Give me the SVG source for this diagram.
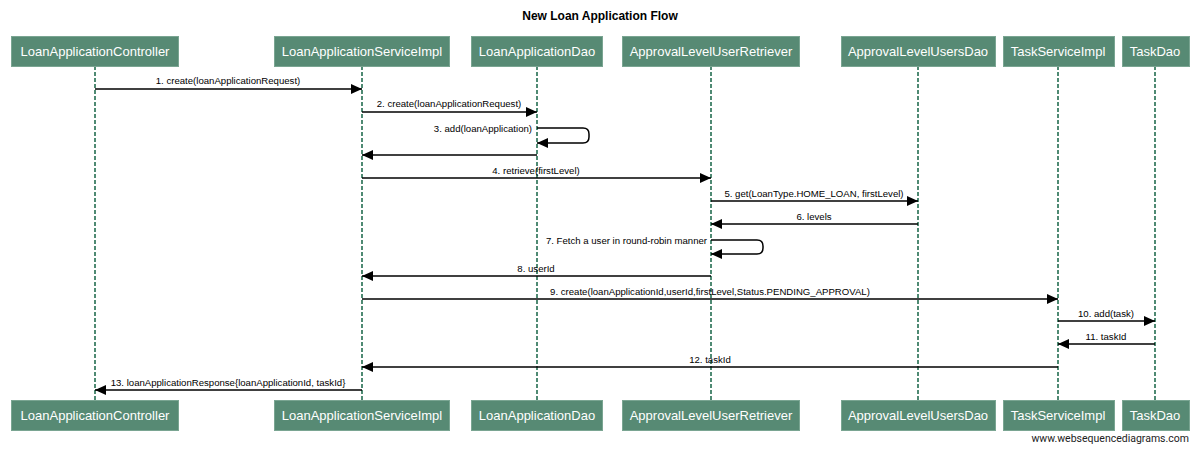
<svg xmlns="http://www.w3.org/2000/svg" width="1200" height="449" viewBox="0 0 1200 449">
<style>
.bg{fill:#ffffff}
.title{font-family:"Liberation Sans",Arial,sans-serif;font-size:12px;font-weight:bold;fill:#000}
.box{fill:#578a74;stroke:#7aa592;stroke-width:1}
.bl{font-family:"Liberation Sans",Arial,sans-serif;font-size:13px;fill:#ffffff;text-anchor:middle}
.life{stroke:#4f8a73;stroke-width:2;stroke-dasharray:4,2;fill:none}
.msg{stroke:#000;stroke-width:1.5;fill:none}
.ml{font-family:"Liberation Sans",Arial,sans-serif;font-size:9.6px;fill:#000;text-anchor:middle}
.mr{font-family:"Liberation Sans",Arial,sans-serif;font-size:9.6px;fill:#000;text-anchor:end}
.foot{font-family:Roboto,"Liberation Sans",sans-serif;font-size:10.5px;fill:#222;text-anchor:end}
</style>
<defs>
<marker id="ah" markerWidth="12" markerHeight="10" refX="11" refY="5" orient="auto" markerUnits="userSpaceOnUse">
<path d="M0,0 L11,5 L0,10 Z" fill="#000"/>
</marker>
</defs>
<rect class="bg" x="0" y="0" width="1200" height="449"/>
<text class="title" x="600" y="20" text-anchor="middle">New Loan Application Flow</text>

<g id="lifelines">
<line class="life" x1="95" y1="66" x2="95" y2="400"/>
<line class="life" x1="362" y1="66" x2="362" y2="400"/>
<line class="life" x1="537" y1="66" x2="537" y2="400"/>
<line class="life" x1="711" y1="66" x2="711" y2="400"/>
<line class="life" x1="918" y1="66" x2="918" y2="400"/>
<line class="life" x1="1058" y1="66" x2="1058" y2="400"/>
<line class="life" x1="1155" y1="66" x2="1155" y2="400"/>
</g>

<g id="LoanApplicationController">
<rect class="box" x="11.5" y="36.5" width="167" height="30"/>
<text class="bl" x="95" y="56">LoanApplicationController</text>
<rect class="box" x="11.5" y="400.5" width="167" height="30"/>
<text class="bl" x="95" y="420">LoanApplicationController</text>
</g>
<g id="LoanApplicationServiceImpl">
<rect class="box" x="274.5" y="36.5" width="175" height="30"/>
<text class="bl" x="362" y="56">LoanApplicationServiceImpl</text>
<rect class="box" x="274.5" y="400.5" width="175" height="30"/>
<text class="bl" x="362" y="420">LoanApplicationServiceImpl</text>
</g>
<g id="LoanApplicationDao">
<rect class="box" x="471.5" y="36.5" width="131" height="30"/>
<text class="bl" x="537" y="56">LoanApplicationDao</text>
<rect class="box" x="471.5" y="400.5" width="131" height="30"/>
<text class="bl" x="537" y="420">LoanApplicationDao</text>
</g>
<g id="ApprovalLevelUserRetriever">
<rect class="box" x="622.5" y="36.5" width="177" height="30"/>
<text class="bl" x="711" y="56">ApprovalLevelUserRetriever</text>
<rect class="box" x="622.5" y="400.5" width="177" height="30"/>
<text class="bl" x="711" y="420">ApprovalLevelUserRetriever</text>
</g>
<g id="ApprovalLevelUsersDao">
<rect class="box" x="841.5" y="36.5" width="154" height="30"/>
<text class="bl" x="918" y="56">ApprovalLevelUsersDao</text>
<rect class="box" x="841.5" y="400.5" width="154" height="30"/>
<text class="bl" x="918" y="420">ApprovalLevelUsersDao</text>
</g>
<g id="TaskServiceImpl">
<rect class="box" x="1003.5" y="36.5" width="111" height="30"/>
<text class="bl" x="1058" y="56">TaskServiceImpl</text>
<rect class="box" x="1003.5" y="400.5" width="111" height="30"/>
<text class="bl" x="1058" y="420">TaskServiceImpl</text>
</g>
<g id="TaskDao">
<rect class="box" x="1122.5" y="36.5" width="67" height="30"/>
<text class="bl" x="1155" y="56">TaskDao</text>
<rect class="box" x="1122.5" y="400.5" width="67" height="30"/>
<text class="bl" x="1155" y="420">TaskDao</text>
</g>

<g id="connectors">
<line class="msg" x1="95" y1="89" x2="362" y2="89" marker-end="url(#ah)"/>
<text class="ml" x="228" y="84">1. create(loanApplicationRequest)</text>

<line class="msg" x1="362" y1="112" x2="537" y2="112" marker-end="url(#ah)"/>
<text class="ml" x="449" y="107">2. create(loanApplicationRequest)</text>

<path class="msg" d="M537,128 L583,128 Q589,128 589,134 L589,137 Q589,143 583,143 L537,143" marker-end="url(#ah)"/>
<text class="mr" x="532" y="132">3. add(loanApplication)</text>

<line class="msg" x1="537" y1="155" x2="362" y2="155" marker-end="url(#ah)"/>

<line class="msg" x1="362" y1="178" x2="711" y2="178" marker-end="url(#ah)"/>
<text class="ml" x="536" y="174">4. retrieve(firstLevel)</text>

<line class="msg" x1="711" y1="201" x2="918" y2="201" marker-end="url(#ah)"/>
<text class="ml" x="814" y="197">5. get(LoanType.HOME_LOAN, firstLevel)</text>

<line class="msg" x1="918" y1="224" x2="711" y2="224" marker-end="url(#ah)"/>
<text class="ml" x="814" y="220">6. levels</text>

<path class="msg" d="M711,240 L757,240 Q763,240 763,246 L763,248 Q763,254 757,254 L711,254" marker-end="url(#ah)"/>
<text class="mr" x="707" y="244">7. Fetch a user in round-robin manner</text>

<line class="msg" x1="711" y1="276" x2="362" y2="276" marker-end="url(#ah)"/>
<text class="ml" x="536" y="272">8. userId</text>

<line class="msg" x1="362" y1="299" x2="1058" y2="299" marker-end="url(#ah)"/>
<text class="ml" x="710" y="295">9. create(loanApplicationId,userId,firstLevel,Status.PENDING_APPROVAL)</text>

<line class="msg" x1="1058" y1="321" x2="1155" y2="321" marker-end="url(#ah)"/>
<text class="ml" x="1106" y="317">10. add(task)</text>

<line class="msg" x1="1155" y1="344" x2="1058" y2="344" marker-end="url(#ah)"/>
<text class="ml" x="1106" y="340">11. taskId</text>

<line class="msg" x1="1058" y1="367" x2="362" y2="367" marker-end="url(#ah)"/>
<text class="ml" x="710" y="363">12. taskId</text>

<line class="msg" x1="362" y1="390" x2="95" y2="390" marker-end="url(#ah)"/>
<text class="ml" x="228" y="386">13. loanApplicationResponse{loanApplicationId, taskId}</text>
</g>

<text class="foot" x="1189" y="442">www.websequencediagrams.com</text>
</svg>
